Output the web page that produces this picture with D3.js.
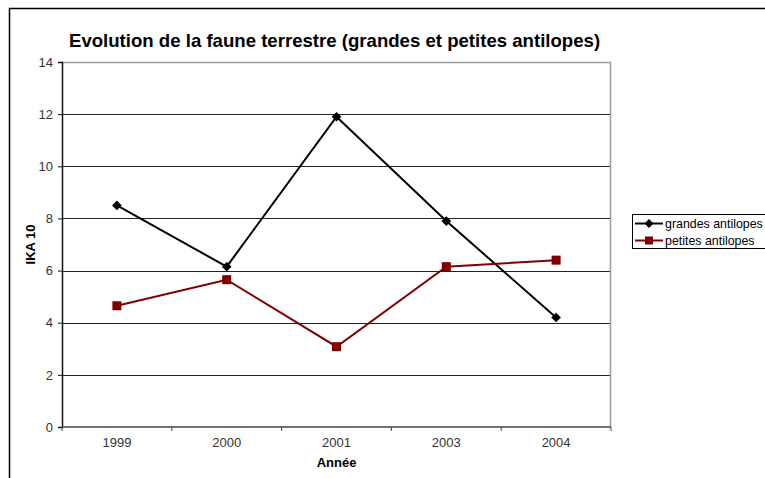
<!DOCTYPE html>
<html>
<head>
<meta charset="utf-8">
<script src="https://cdn.jsdelivr.net/npm/d3@7"></script>
<style>
  body { margin: 0; background: #fff; }
  svg { display: block; font-family: "Liberation Sans", Arial, sans-serif; }
</style>
</head>
<body>
<script>
var years = ['1999', '2000', '2001', '2003', '2004'];
var grandes = [8.5, 6.15, 11.9, 7.9, 4.2];
var petites = [4.65, 5.65, 3.08, 6.15, 6.4];
var yTicks = [0, 2, 4, 6, 8, 10, 12, 14];
var seriesNames = ['grandes antilopes', 'petites antilopes'];

var screen = { width: 765, height: 478 };
var margins = { top: 62, left: 62, right: 154, bottom: 51 };
var width = screen.width - margins.left - margins.right;
var height = screen.height - margins.top - margins.bottom;

var svg = d3.select('body').append('svg')
  .attr('width', screen.width)
  .attr('height', screen.height);

// outer frame (cut off on the right and bottom)
svg.append('path')
  .attr('d', 'M9.5,' + screen.height + 'V8.5H' + screen.width)
  .attr('fill', 'none')
  .attr('stroke', '#000')
  .attr('stroke-width', 1.5);

var xScale = d3.scaleBand().domain(years).range([0, width]);
var yScale = d3.scaleLinear().domain([0, 14]).range([height, 0]);

var g = svg.append('g')
  .attr('transform', 'translate(' + margins.left + ',' + margins.top + ')');

// grid
g.append('g').selectAll('line')
  .data(yTicks.filter(function(d){ return d > 0 && d < 14; }))
  .enter().append('line')
  .attr('x1', 0).attr('x2', width)
  .attr('y1', function(d){ return Math.round(yScale(d)) + 0.5; })
  .attr('y2', function(d){ return Math.round(yScale(d)) + 0.5; })
  .attr('stroke', '#222');

// plot frame top and right in gray
g.append('path')
  .attr('d', 'M0,0.5H' + (width - 0.5) + 'V' + height)
  .attr('fill', 'none')
  .attr('stroke', '#9a9a9a')
  .attr('stroke-width', 1.5);

// y axis
var yAxis = d3.axisLeft(yScale).tickValues(yTicks).tickSize(4).tickPadding(5);
var ya = g.append('g').call(yAxis);
ya.select('.domain').attr('stroke', '#111').attr('stroke-width', 1.5);
ya.selectAll('.tick line').attr('stroke', '#111');
ya.selectAll('text').attr('font-size', 13).attr('fill', '#333')
  .attr('font-family', '"Liberation Sans", Arial, sans-serif');

// x axis with ticks at category boundaries
var xa = g.append('g').attr('transform', 'translate(0,' + height + ')');
xa.append('line').attr('x1', 0).attr('x2', width).attr('y1', 0).attr('y2', 0)
  .attr('stroke', '#444').attr('stroke-width', 1.5);
xa.selectAll('.tk').data(years.concat(['end']))
  .enter().append('line')
  .attr('x1', function(d, i){ return i < years.length ? xScale(d) : width; })
  .attr('x2', function(d, i){ return i < years.length ? xScale(d) : width; })
  .attr('y1', 0).attr('y2', 4)
  .attr('stroke', '#444');
xa.selectAll('text').data(years)
  .enter().append('text')
  .attr('x', function(d){ return xScale(d) + xScale.bandwidth() / 2; })
  .attr('y', 20)
  .attr('text-anchor', 'middle')
  .attr('font-size', 13)
  .attr('fill', '#333')
  .text(function(d){ return d; });

// lines
var cx = function(d, i){ return xScale(years[i]) + xScale.bandwidth() / 2; };
var line = d3.line().x(cx).y(function(d){ return yScale(d); });

g.append('path').datum(grandes)
  .attr('d', line).attr('fill', 'none').attr('stroke', '#000').attr('stroke-width', 2);
g.append('path').datum(petites)
  .attr('d', line).attr('fill', 'none').attr('stroke', '#800000').attr('stroke-width', 2);

var diamond = d3.symbol().type(d3.symbolDiamond2).size(60);
g.selectAll('.dm').data(grandes).enter().append('path')
  .attr('d', diamond)
  .attr('transform', function(d, i){ return 'translate(' + cx(d, i) + ',' + yScale(d) + ')'; })
  .attr('fill', '#000');

g.selectAll('.sq').data(petites).enter().append('rect')
  .attr('x', function(d, i){ return cx(d, i) - 4.5; })
  .attr('y', function(d){ return yScale(d) - 4.5; })
  .attr('width', 9).attr('height', 9)
  .attr('fill', '#800000');

// titles
svg.append('text')
  .attr('x', 69).attr('y', 47)
  .attr('font-size', 18.6).attr('font-weight', 'bold')
  .text('Evolution de la faune terrestre (grandes et petites antilopes)');

svg.append('text')
  .attr('transform', 'translate(35,' + (margins.top + height / 2) + ') rotate(-90)')
  .attr('text-anchor', 'middle')
  .attr('font-size', 13).attr('font-weight', 'bold')
  .text('IKA 10');

svg.append('text')
  .attr('x', margins.left + width / 2).attr('y', 467)
  .attr('text-anchor', 'middle')
  .attr('font-size', 13).attr('font-weight', 'bold')
  .text('Année');

// legend
var legend = svg.append('g').attr('transform', 'translate(632,214)');
legend.append('rect')
  .attr('x', 0.5).attr('y', 0.5).attr('width', 160).attr('height', 34)
  .attr('fill', '#fff').attr('stroke', '#000');
var colors = ['#000', '#800000'];
var rows = legend.selectAll('.row').data(seriesNames).enter().append('g')
  .attr('transform', function(d, i){ return 'translate(0,' + (9.5 + i * 17) + ')'; });
rows.append('line').attr('x1', 3).attr('x2', 31).attr('y1', 0).attr('y2', 0)
  .attr('stroke', function(d, i){ return colors[i]; }).attr('stroke-width', 2);
rows.each(function(d, i){
  var r = d3.select(this);
  if (i === 0) {
    r.append('path').attr('d', d3.symbol().type(d3.symbolDiamond2).size(50))
      .attr('transform', 'translate(17,0)').attr('fill', '#000');
  } else {
    r.append('rect').attr('x', 13).attr('y', -4).attr('width', 8).attr('height', 8)
      .attr('fill', '#800000');
  }
});
rows.append('text').attr('x', 33).attr('y', 4.5)
  .attr('font-size', 12.4)
  .text(function(d){ return d; });
</script>
</body>
</html>
